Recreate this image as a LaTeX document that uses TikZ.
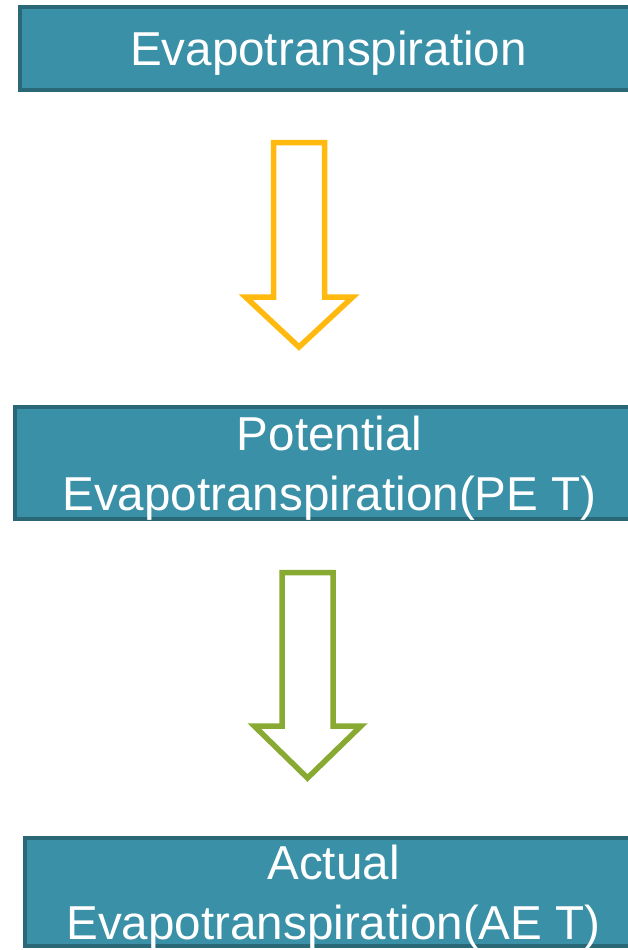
\documentclass[tikz,border=0pt]{standalone}
\usepackage{fontspec}
\setmainfont{Liberation Sans}
\usepackage{xcolor}
\usepackage{tikz}
\definecolor{boxfill}{RGB}{58,144,167}
\definecolor{boxline}{RGB}{42,104,120}
\definecolor{etyellow}{RGB}{255,185,15}
\definecolor{etgreen}{RGB}{136,170,50}

\begin{document}
\begin{tikzpicture}[x=1pt, y=-1pt,
        etbox/.style={draw=boxline, line width=4pt, fill=boxfill, text=white,
            align=center, inner sep=0pt, text depth=0pt,
            font=\fontsize{47.6}{60}\selectfont},
        hollow/.style={line width=5.5pt, line join=miter, fill=white}]
                \clip (0, 0) rectangle (628, 950);

                \node[etbox, minimum width=617, minimum height=83] (et) at (328.5, 48.5) {Evapotranspiration};
                \node[etbox, minimum width=629, minimum height=112] (pet) at (329.5, 463) {Potential\\Evapotranspiration(PE T)};
                \node[etbox, minimum width=617, minimum height=108] (aet) at (333.5, 892) {Actual\\Evapotranspiration(AE T)};

                \coordinate (ya) at (299, 142.5);
                \coordinate (yb) at (299, 347);
                \coordinate (ga) at (307.5, 572.5);
                \coordinate (gb) at (307.5, 778);

                \draw[hollow, draw=etyellow] (ya) ++(-25.5, 0) -- ++(0, 154.5) -- ++(-28, 0) -- (yb)
                    -- ++(53.75, -50) -- ++(-28.25, 0) -- ++(0, -154.5) -- cycle;
                \draw[hollow, draw=etgreen] (ga) ++(-25.5, 0) -- ++(0, 153.5) -- ++(-27.75, 0) -- (gb)
                    -- ++(53.5, -52) -- ++(-28, 0) -- ++(0, -153.5) -- cycle;
            \end{tikzpicture}
\end{document}
